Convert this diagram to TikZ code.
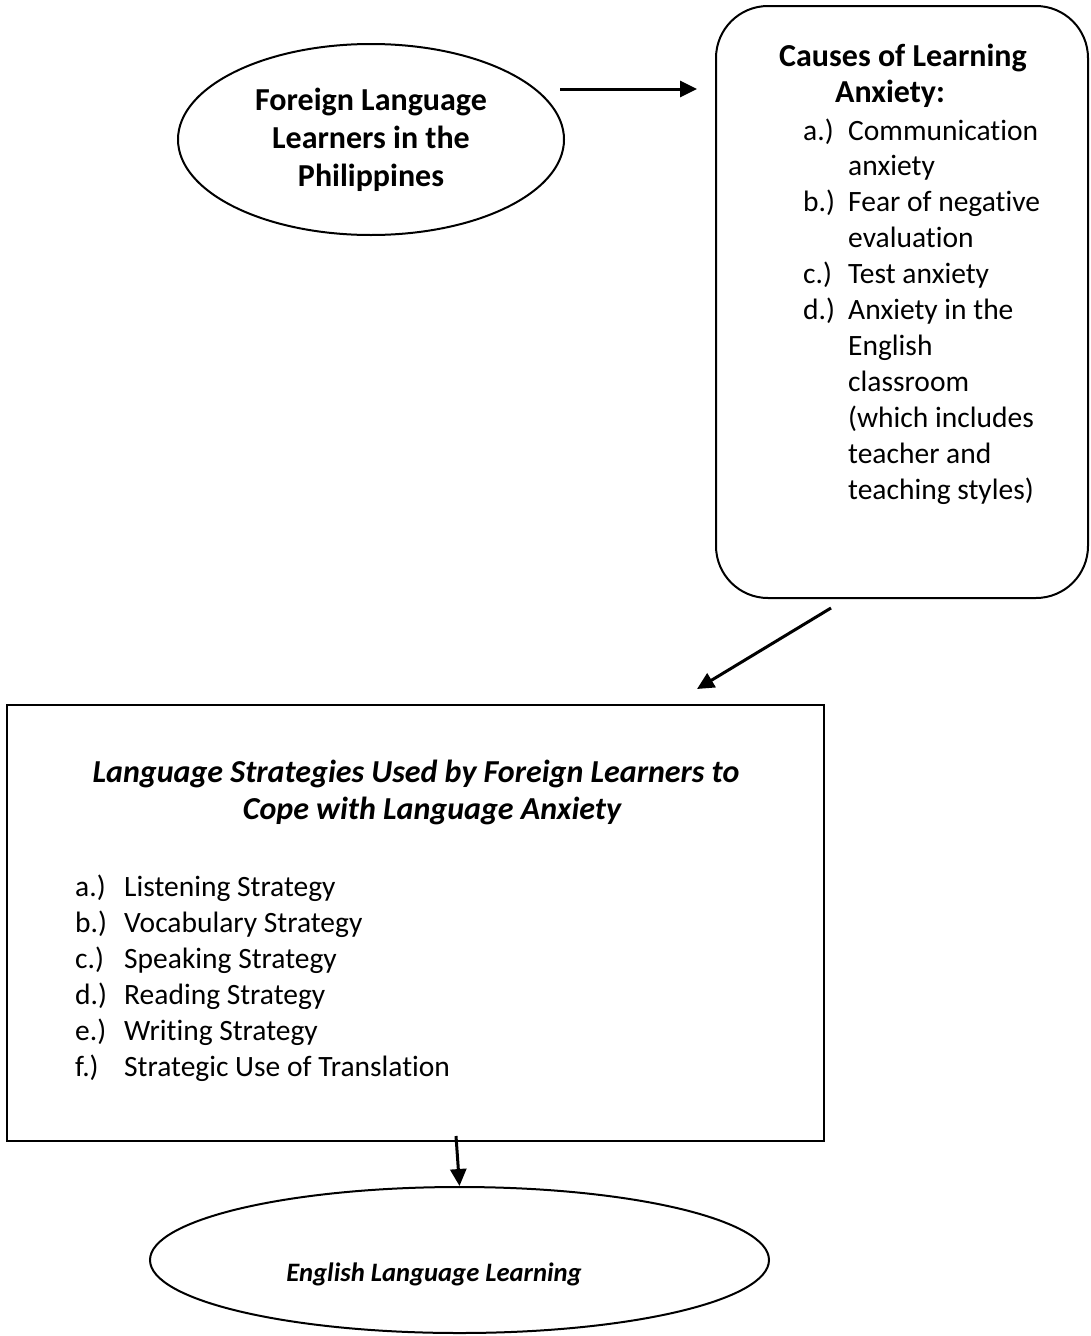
\documentclass[tikz,border=0pt]{standalone}
\usepackage{fontspec}
\setmainfont{Carlito}[Ligatures=NoCommon]
\usetikzlibrary{shapes.geometric,arrows.meta}
\tikzset{
  shapeline/.style={draw=black,line width=2pt},
  conn/.style={line width=3pt,-{Triangle[length=17pt,width=16pt]}},
  txt/.style={inner sep=0pt,font=\fontsize{29.5}{36}\selectfont},
  bl/.style={txt,anchor=base west},
  bc/.style={txt,anchor=base},
  headb/.style={bc,font=\fontsize{32}{38}\selectfont\bfseries},
  headbi/.style={bc,font=\fontsize{32}{38}\selectfont\bfseries\itshape},
}
\begin{document}
\begin{tikzpicture}[x=1pt,y=-1pt]
\useasboundingbox (0,0) rectangle (1091,1336);
% shapes
\node[shapeline,ellipse,minimum width=386pt,minimum height=191pt,inner sep=0pt] (e1) at (371,139.5) {};
\node[shapeline,rectangle,rounded corners=52pt,minimum width=372pt,minimum height=592pt,inner sep=0pt] (causes) at (902,302) {};
\node[shapeline,rectangle,minimum width=817pt,minimum height=436pt,inner sep=0pt] (strat) at (415.5,923) {};
\node[shapeline,ellipse,minimum width=619pt,minimum height=146pt,inner sep=0pt] (e2) at (459.5,1260) {};
% ellipse 1 text
\node[headb] (t1a) at (371,110) {Foreign Language};
\node[headb] (t1b) at (371,148) {Learners in the};
\node[headb] (t1c) at (371,186) {Philippines};
% causes box
\node[headb] (ch1) at (903,66) {Causes of Learning};
\node[headb] (ch2) at (890,102) {Anxiety:};
\node[bl] (ca) at (803,140) {a.)};
\node[bl] (ca1) at (848,140) {Communication};
\node[bl] (ca2) at (848,175) {anxiety};
\node[bl] (cb) at (803,211) {b.)};
\node[bl] (cb1) at (848,211) {Fear of negative};
\node[bl] (cb2) at (848,247) {evaluation};
\node[bl] (cc) at (803,283) {c.)};
\node[bl] (cc1) at (848,283) {Test anxiety};
\node[bl] (cd) at (803,319) {d.)};
\node[bl] (cd1) at (848,319) {Anxiety in the};
\node[bl] (cd2) at (848,355) {English};
\node[bl] (cd3) at (848,391) {classroom};
\node[bl] (cd4) at (848,427) {(which includes};
\node[bl] (cd5) at (848,463) {teacher and};
\node[bl] (cd6) at (848,499) {teaching styles)};
% strategies box
\node[headbi] (st1) at (416,782) {Language Strategies Used by Foreign Learners to};
\node[headbi] (st2) at (432,819) {Cope with Language Anxiety};
\node[bl] (sa) at (75,896) {a.)};
\node[bl] (sa1) at (124,896) {Listening Strategy};
\node[bl] (sb) at (75,932) {b.)};
\node[bl] (sb1) at (124,932) {Vocabulary Strategy};
\node[bl] (sc) at (75,968) {c.)};
\node[bl] (sc1) at (124,968) {Speaking Strategy};
\node[bl] (sd) at (75,1004) {d.)};
\node[bl] (sd1) at (124,1004) {Reading Strategy};
\node[bl] (se) at (75,1040) {e.)};
\node[bl] (se1) at (124,1040) {Writing Strategy};
\node[bl] (sf) at (75,1076) {f.)};
\node[bl] (sf1) at (124,1076) {Strategic Use of Translation};
% ellipse 2 text
\node[bc,font=\fontsize{26.6}{32}\selectfont\bfseries\itshape] (t2) at (434,1281) {English Language Learning};
% connectors
\coordinate (a1s) at (560,89);
\coordinate (a1e) at (697,89);
\coordinate (a2s) at (831,608);
\coordinate (a2e) at (697,689);
\coordinate (a3s) at (456,1136);
\draw[conn] (a1s) -- (a1e);
\draw[conn] (a2s) -- (a2e);
\draw[conn] (a3s) -- (e2.north);
\end{tikzpicture}
\end{document}
